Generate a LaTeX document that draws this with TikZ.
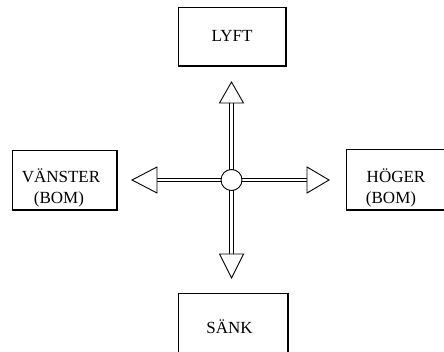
\documentclass[tikz,border=0pt]{standalone}
\usepackage{fontspec}
\setmainfont{Liberation Serif}
\begin{document}
\begin{tikzpicture}[x=1pt,y=-1pt,
  box/.style={draw,line width=0.9pt,minimum width=#1,inner sep=0pt},
  lbl/.style={anchor=base,inner sep=0pt,font=\fontsize{17}{21}\selectfont},
  shaft/.style={draw,line width=1pt,double=white,double distance=2.6pt},
  head/.style={draw,fill=white,line width=0.9pt,line join=miter}]
\useasboundingbox (0,0) rectangle (444,352);
% boxes
\node[box=107pt,minimum height=58pt] (lyft) at (231.5,36) {};
\node[box=104pt,minimum height=59pt] (vanster) at (64,179.5) {};
\node[box=100pt,minimum height=60pt] (hoger) at (396,179) {};
\node[box=109pt,minimum height=61pt] (sank) at (232.5,323.5) {};
\foreach \b in {lyft,vanster,hoger,sank}{
  \draw[line width=1pt] ([xshift=0.7pt]\b.north east) -- ([xshift=0.7pt,yshift=-0.7pt]\b.south east) -- ([yshift=-0.7pt]\b.south west);
}
% labels
\node[lbl] (tlyft) at (232,42) {LYFT};
\node[lbl] (tv1) at (61,183) {VÄNSTER};
\node[lbl] (tv2) at (59,204) {(BOM)};
\node[lbl] (th1) at (396,183) {HÖGER};
\node[lbl] (th2) at (391,203.5) {(BOM)};
\node[lbl] (tsank) at (229.5,333) {SÄNK};
% center
\node[circle,minimum size=21pt,inner sep=0pt] (c) at (231.5,180) {};
\coordinate (bu) at (231.5,103);
\coordinate (bd) at (231.5,254);
\coordinate (bl) at (157,180);
\coordinate (br) at (307,180);
\path[shaft] (c.center) -- (bu);
\path[shaft] (c.center) -- (bd);
\path[shaft] (c.center) -- (bl);
\path[shaft] (c.center) -- (br);
\draw[line width=0.9pt,fill=white] (c.center) circle (10.5pt);
% heads
\draw[head] ([xshift=-12pt]bu) -- (231.5,82) -- ([xshift=12pt]bu) -- cycle;
\draw[head] ([xshift=-12pt]bd) -- (231.5,278) -- ([xshift=12pt]bd) -- cycle;
\draw[head] ([yshift=-13pt]bl) -- (132,180) -- ([yshift=13pt]bl) -- cycle;
\draw[head] ([yshift=-13pt]br) -- (329,180) -- ([yshift=13pt]br) -- cycle;
\end{tikzpicture}
\end{document}
